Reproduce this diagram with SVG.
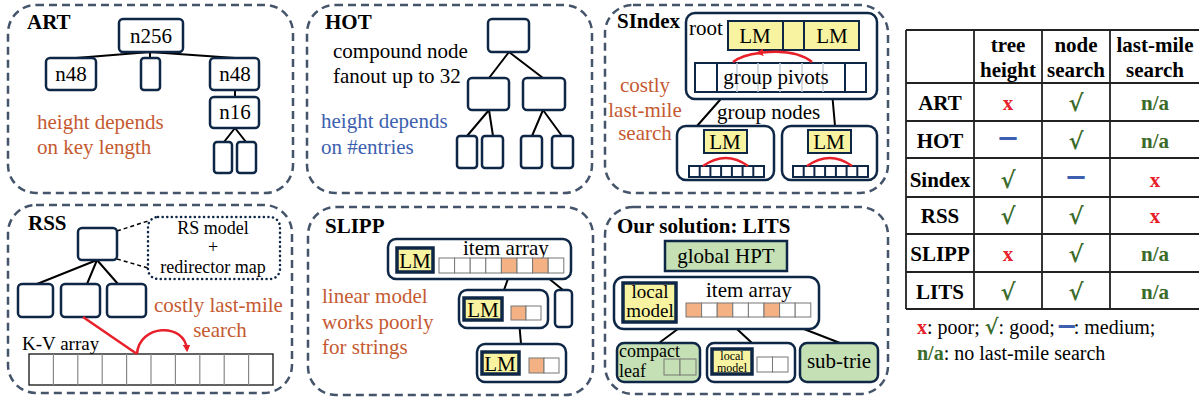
<svg xmlns="http://www.w3.org/2000/svg" width="1199" height="400" viewBox="0 0 1199 400">
<defs>
<style>
text{font-family:"Liberation Serif","Times New Roman",serif;font-size:21px;fill:#000}
.title{font-weight:bold}
.panel{fill:none;stroke:#44546A;stroke-width:2.5;stroke-dasharray:8 5}
.node{fill:#fff;stroke:#0F2746;stroke-width:2.5}
.edge{stroke:#000;stroke-width:2;fill:none}
.org{fill:#C55A31}
.blu{fill:#3C5FAF}
.yel{fill:#F8F3A0;stroke:#0F2746;stroke-width:2}
.yelb{fill:#F8F3A0;stroke:#0F2746;stroke-width:3.5}
.grn{fill:#C5E0B4;stroke:#0F2746;stroke-width:2.5}
.cell{fill:#fff;stroke:#777;stroke-width:1}
.ocell{fill:#F4B183;stroke:#777;stroke-width:1}
.red{stroke:#E8202A;stroke-width:2.5;fill:none}
.tl{stroke:#222;stroke-width:1.8}
.th{font-weight:bold;text-anchor:middle}
.r{fill:#E8202A;font-weight:bold}
.g{fill:#3B6B2A;font-weight:bold}
.ck{fill:#3B6B2A;font-weight:bold;font-family:"DejaVu Serif",serif;font-size:23px}
.b{fill:#3C5FAF;stroke:#3C5FAF;stroke-width:2;font-weight:bold}
.mid{text-anchor:middle}
</style>
<marker id="ra" viewBox="0 0 10 10" refX="7" refY="5" markerWidth="3" markerHeight="3" orient="auto" markerUnits="strokeWidth">
<path d="M0,0 L10,5 L0,10 z" fill="#E8202A"/>
</marker>
</defs>

<!-- panel frames -->
<g id="panels">
<rect class="panel" x="8" y="5" width="285" height="188" rx="28"/>
<rect class="panel" x="307" y="5" width="285" height="188" rx="28"/>
<rect class="panel" x="605" y="5" width="283" height="188" rx="28"/>
<rect class="panel" x="8" y="205" width="284" height="188" rx="28"/>
<rect class="panel" x="308" y="207" width="285" height="188" rx="28"/>
<rect class="panel" x="605" y="207" width="283" height="187" rx="28"/>
</g>

<!-- connectors -->
<g id="connectors">
<path class="edge" d="M150,52 L76,58 M150,52 L150,58 M150,52 L235,58 M235,90 L235,97 M235,128 L224,142 M235,128 L246,142"/>
<path class="edge" d="M509,52 L489,78 M509,52 L543,78 M489,110 L467,136 M489,110 L493,136 M543,110 L532,136 M543,110 L562,136"/>
<path class="edge" d="M727,92 L697,126 M832,92 L835,126"/>
<path class="edge" d="M97,260 L37,284 M97,260 L87,284 M97,260 L118,284"/>
<path d="M117,231 L148,221 M117,259 L148,268" stroke="#000" stroke-width="1.5" stroke-dasharray="4 3" fill="none"/>
<path class="edge" d="M510,273 L504,290 M542,273 L563,290 M519,320 L521,344"/>
<path class="edge" d="M694,317 L659,343 M724,317 L752,343 M773,317 L840,343"/>
</g>

<!-- ART -->
<g id="art">
<text class="title" x="27" y="29">ART</text>
<g id="art-n256"><rect class="node" x="119" y="19" width="64" height="33" rx="4"/><text class="mid" x="151" y="43">n256</text></g>
<g id="art-n48a"><rect class="node" x="46" y="58" width="50" height="32" rx="4"/><text class="mid" x="71" y="81">n48</text></g>
<g id="art-empty"><rect class="node" x="141" y="58" width="19" height="32" rx="3"/></g>
<g id="art-n48b"><rect class="node" x="210" y="58" width="49" height="32" rx="4"/><text class="mid" x="235" y="81">n48</text></g>
<g id="art-n16"><rect class="node" x="210" y="97" width="49" height="31" rx="4"/><text class="mid" x="235" y="119">n16</text></g>
<g id="art-leafa"><rect class="node" x="214" y="142" width="18" height="31" rx="3"/></g>
<g id="art-leafb"><rect class="node" x="237" y="142" width="19" height="31" rx="3"/></g>
<text class="org" x="37" y="129">height depends</text>
<text class="org" x="37" y="154">on key length</text>
</g>

<!-- HOT -->
<g id="hot">
<text class="title" x="325" y="29">HOT</text>
<text x="333" y="58">compound node</text>
<text x="333" y="83">fanout up to 32</text>
<text class="blu" x="321" y="128">height depends</text>
<text class="blu" x="321" y="154">on #entries</text>
<g id="hot-root"><rect class="node" x="488" y="19" width="41" height="33" rx="4"/></g>
<g id="hot-m1"><rect class="node" x="468" y="78" width="41" height="32" rx="4"/></g>
<g id="hot-m2"><rect class="node" x="523" y="78" width="42" height="32" rx="4"/></g>
<g id="hot-l1"><rect class="node" x="457" y="136" width="20" height="32" rx="3"/></g>
<g id="hot-l2"><rect class="node" x="482" y="136" width="21" height="32" rx="3"/></g>
<g id="hot-l3"><rect class="node" x="521" y="136" width="21" height="32" rx="3"/></g>
<g id="hot-l4"><rect class="node" x="552" y="136" width="21" height="32" rx="3"/></g>
</g>

<!-- SIndex -->
<g id="sindex">
<text class="title" x="617" y="28">SIndex</text>
<text class="org mid" x="645" y="92">costly</text>
<text class="org mid" x="645" y="117">last-mile</text>
<text class="org mid" x="645" y="140">search</text>
<g id="sindex-root">
<rect class="node" x="686" y="13" width="191" height="86" rx="9"/>
<text x="689" y="35">root</text>
<rect class="yel" x="728" y="21" width="131" height="29"/>
<line x1="783" y1="21" x2="783" y2="50" stroke="#0F2746" stroke-width="2"/>
<line x1="804" y1="21" x2="804" y2="50" stroke="#0F2746" stroke-width="2"/>
<text class="mid" x="755" y="43">LM</text>
<text class="mid" x="832" y="43">LM</text>
<rect x="695" y="63" width="171" height="29" fill="#fff" stroke="#0F2746" stroke-width="2"/>
<path d="M737,63 V92 M758,63 V92 M780,63 V92 M802,63 V92 M823,63 V92" stroke="#C8D0DA" stroke-width="1.5"/>
<path d="M717,63 V92 M845,63 V92" stroke="#0F2746" stroke-width="2"/>
<text class="mid" x="776" y="84">group pivots</text>
<path class="red" d="M812,62 Q795,48 758,53" marker-end="url(#ra)"/>
<path class="red" d="M760,53 Q742,55 733,62"/>
</g>
<text x="717" y="119">group nodes</text>
<g id="sindex-g1">
<rect class="node" x="677" y="126" width="97" height="54" rx="9"/>
<rect class="yel" x="704" y="130" width="43" height="23"/>
<text class="mid" x="725" y="149">LM</text>
<rect x="689" y="166" width="75" height="11" fill="#fff" stroke="#0F2746" stroke-width="2"/>
<path d="M699.7,166 V177 M710.4,166 V177 M721.1,166 V177 M731.9,166 V177 M742.6,166 V177 M753.3,166 V177" stroke="#0F2746" stroke-width="2"/>
<path class="red" d="M703,166 Q726,150 748,166"/>
</g>
<g id="sindex-g2">
<rect class="node" x="782" y="126" width="95" height="54" rx="9"/>
<rect class="yel" x="808" y="130" width="43" height="23"/>
<text class="mid" x="829" y="149">LM</text>
<rect x="793" y="166" width="75" height="11" fill="#fff" stroke="#0F2746" stroke-width="2"/>
<path d="M803.7,166 V177 M814.4,166 V177 M825.1,166 V177 M835.9,166 V177 M846.6,166 V177 M857.3,166 V177" stroke="#0F2746" stroke-width="2"/>
<path class="red" d="M807,166 Q830,150 852,166"/>
</g>
</g>

<!-- RSS -->
<g id="rss">
<text class="title" x="28" y="230">RSS</text>
<g id="rss-root"><rect class="node" x="78" y="228" width="39" height="32" rx="4"/></g>
<g id="rss-model">
<rect x="148" y="217" width="132" height="62" rx="10" fill="#fff" stroke="#0F2746" stroke-width="2.5" stroke-dasharray="0.1 4.5" stroke-linecap="round"/>
<text class="mid" x="213" y="234" style="font-size:18px">RS model</text>
<text class="mid" x="213" y="253" style="font-size:18px">+</text>
<text class="mid" x="213" y="273" style="font-size:18px">redirector map</text>
</g>
<g id="rss-c1"><rect class="node" x="18" y="284" width="35" height="33" rx="4"/></g>
<g id="rss-c2"><rect class="node" x="61" y="284" width="39" height="33" rx="4"/></g>
<g id="rss-c3"><rect class="node" x="107" y="284" width="39" height="33" rx="4"/></g>
<text class="org" x="154" y="312">costly last-mile</text>
<text class="org mid" x="220" y="337">search</text>
<text x="22" y="350" style="font-size:19px">K-V array</text>
<g id="rss-kv">
<rect x="29" y="354" width="244" height="31" fill="#fff" stroke="#111" stroke-width="1.3"/>
<path d="M53.4,354 V385 M77.8,354 V385 M102.2,354 V385 M126.6,354 V385 M151,354 V385 M175.4,354 V385 M199.8,354 V385 M224.2,354 V385 M248.6,354 V385" stroke="#888" stroke-width="1.2"/>
</g>
<path class="red" d="M83,317 L137,354"/>
<path class="red" d="M137,354 C139,324 185,322 187,350" marker-end="url(#ra)"/>
</g>

<!-- SLIPP -->
<g id="slipp">
<text class="title" x="325" y="233">SLIPP</text>
<text class="org" x="322" y="303">linear model</text>
<text class="org" x="322" y="329">works poorly</text>
<text class="org" x="322" y="354">for strings</text>
<g id="slipp-n1">
<rect class="node" x="388" y="239" width="183" height="40" rx="8"/>
<rect class="yelb" x="397" y="248" width="36" height="24"/>
<text class="mid" x="415" y="268">LM</text>
<text x="463" y="255">item array</text>
<rect class="cell" x="439" y="258" width="15.6" height="15"/>
<rect class="cell" x="454.6" y="258" width="15.6" height="15"/>
<rect class="cell" x="470.2" y="258" width="15.6" height="15"/>
<rect class="cell" x="485.8" y="258" width="15.6" height="15"/>
<rect class="ocell" x="501.4" y="258" width="15.6" height="15"/>
<rect class="cell" x="517" y="258" width="15.6" height="15"/>
<rect class="ocell" x="532.6" y="258" width="15.6" height="15"/>
<rect class="cell" x="548.2" y="258" width="15.6" height="15"/>
</g>
<g id="slipp-small"><rect class="node" x="555" y="290" width="17" height="37" rx="4"/></g>
<g id="slipp-n2">
<rect class="node" x="459" y="290" width="89" height="38" rx="8"/>
<rect class="yelb" x="464" y="298" width="38" height="22"/>
<text class="mid" x="483" y="317">LM</text>
<rect class="ocell" x="511" y="306" width="15" height="14"/>
<rect class="cell" x="526" y="306" width="15" height="14"/>
</g>
<g id="slipp-n3">
<rect class="node" x="477" y="344" width="89" height="38" rx="8"/>
<rect class="yelb" x="482" y="352" width="37" height="22"/>
<text class="mid" x="500" y="371">LM</text>
<rect class="ocell" x="529" y="358" width="15" height="15"/>
<rect class="cell" x="544" y="358" width="15" height="15"/>
</g>
</g>

<!-- LITS -->
<g id="lits">
<text class="title" x="617" y="233">Our solution: LITS</text>
<g id="lits-hpt">
<rect class="grn" x="665" y="241" width="122" height="30"/>
<text class="mid" x="726" y="263">global HPT</text>
</g>
<g id="lits-node">
<rect class="node" x="614" y="277" width="205" height="52" rx="10"/>
<rect class="yelb" x="623" y="283" width="53" height="39"/>
<text class="mid" x="650" y="298" style="font-size:19px">local</text>
<text class="mid" x="650" y="317" style="font-size:19px">model</text>
<text x="706" y="297">item array</text>
<rect class="ocell" x="686" y="303" width="15.6" height="14"/>
<rect class="cell" x="701.6" y="303" width="15.6" height="14"/>
<rect class="ocell" x="717.2" y="303" width="15.6" height="14"/>
<rect class="cell" x="732.8" y="303" width="15.6" height="14"/>
<rect class="cell" x="748.4" y="303" width="15.6" height="14"/>
<rect class="ocell" x="764" y="303" width="15.6" height="14"/>
<rect class="cell" x="779.6" y="303" width="15.6" height="14"/>
<rect class="cell" x="795.2" y="303" width="15.6" height="14"/>
</g>
<g id="lits-leaf">
<rect class="grn" x="617" y="343" width="83" height="39" rx="7"/>
<text x="619" y="357" style="font-size:18px">compact</text>
<text x="619" y="377" style="font-size:18px">leaf</text>
<rect x="664" y="359" width="16" height="16" fill="#C5E0B4" stroke="#777" stroke-width="1"/>
<rect x="680" y="359" width="16" height="16" fill="#C5E0B4" stroke="#777" stroke-width="1"/>
</g>
<g id="lits-mid">
<rect class="node" x="707" y="343" width="88" height="39" rx="7"/>
<rect class="yelb" x="712" y="349" width="40" height="25"/>
<text class="mid" x="732" y="360" style="font-size:12px">local</text>
<text class="mid" x="732" y="372" style="font-size:12px">model</text>
<rect class="cell" x="757" y="357" width="15.5" height="15"/>
<rect class="cell" x="772.5" y="357" width="15.5" height="15"/>
</g>
<g id="lits-subtrie">
<rect class="grn" x="800" y="343" width="78" height="39" rx="7"/>
<text class="mid" x="839" y="368">sub-trie</text>
</g>
</g>

<!-- table -->
<g id="table">
<path class="tl" d="M906,30 H1199 M906,83 H1199 M906,121 H1199 M906,158 H1199 M906,197 H1199 M906,234 H1199 M906,272 H1199 M906,309 H1199 M906,30 V309 M974,30 V309 M1042,30 V309 M1110,30 V309"/>
<text class="th" x="1008" y="52">tree</text>
<text class="th" x="1008" y="77">height</text>
<text class="th" x="1076" y="52">node</text>
<text class="th" x="1076" y="77">search</text>
<text class="th" x="1155" y="52">last-mile</text>
<text class="th" x="1155" y="77">search</text>

<text class="th" x="940" y="110">ART</text>
<text class="th" x="940" y="148">HOT</text>
<text class="th" x="940" y="187">Sindex</text>
<text class="th" x="940" y="223">RSS</text>
<text class="th" x="940" y="261">SLIPP</text>
<text class="th" x="940" y="299">LITS</text>

<text class="r mid" x="1008" y="110">x</text>
<text class="ck mid" x="1076" y="111">√</text>
<text class="g mid" x="1155" y="110">n/a</text>

<text class="b mid" x="1008" y="142" style="font-size:15px">—</text>
<text class="ck mid" x="1076" y="149">√</text>
<text class="g mid" x="1155" y="148">n/a</text>

<text class="ck mid" x="1008" y="188">√</text>
<text class="b mid" x="1076" y="181" style="font-size:15px">—</text>
<text class="r mid" x="1155" y="187">x</text>

<text class="ck mid" x="1008" y="224">√</text>
<text class="ck mid" x="1076" y="224">√</text>
<text class="r mid" x="1155" y="223">x</text>

<text class="r mid" x="1008" y="261">x</text>
<text class="ck mid" x="1076" y="262">√</text>
<text class="g mid" x="1155" y="261">n/a</text>

<text class="ck mid" x="1008" y="300">√</text>
<text class="ck mid" x="1076" y="300">√</text>
<text class="g mid" x="1155" y="299">n/a</text>

<text x="917" y="334" style="font-size:20px"><tspan class="r">x</tspan>: poor; <tspan class="ck" style="font-size:21px">√</tspan>: good; <tspan class="b" style="font-size:14px" dy="-4">—</tspan><tspan dy="4">: medium;</tspan></text>
<text x="917" y="360" style="font-size:20px"><tspan class="g">n/a</tspan>: no last-mile search</text>
</g>
</svg>
